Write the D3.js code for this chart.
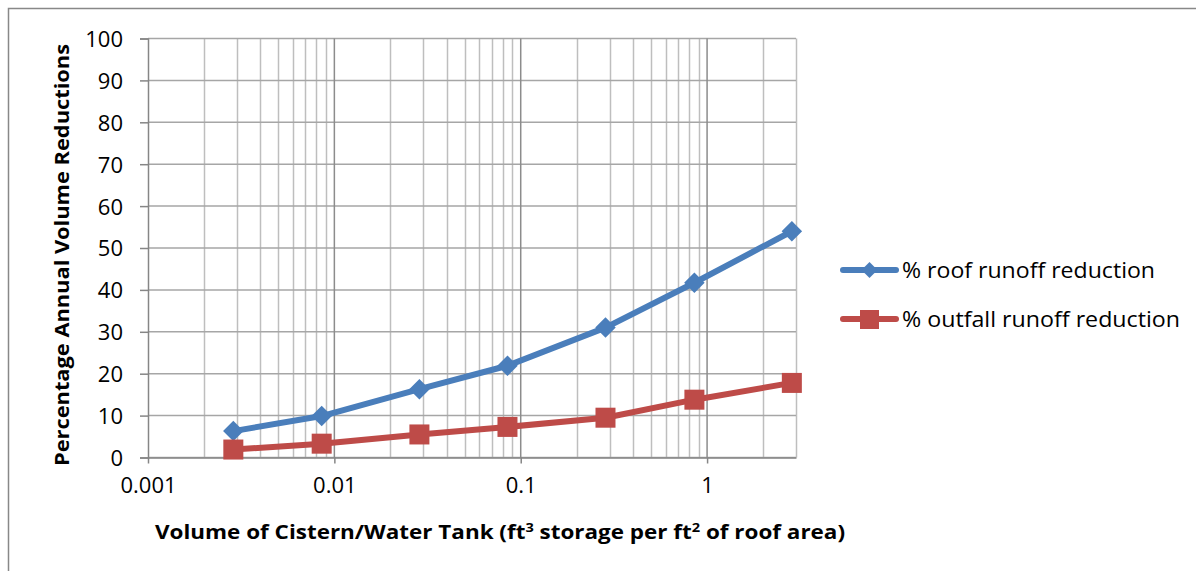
<!DOCTYPE html>
<html>
<head>
<meta charset="utf-8">
<script src="https://cdn.jsdelivr.net/npm/d3@7"></script>
<style>
  html, body { margin: 0; padding: 0; background: #fff; }
  svg { display: block; }
  text { font-family: "Open Sans", "Liberation Sans", sans-serif; fill: #000; }
</style>
</head>
<body>
<svg id="chart" width="1196" height="571"></svg>
<script>
// ---- data ----
const xValues = [0.00287, 0.00855, 0.0286, 0.0849, 0.285, 0.855, 2.85];
const roofReduction = [6.3, 9.9, 16.3, 21.9, 31.0, 41.7, 54.0];
const outfallReduction = [1.9, 3.3, 5.5, 7.3, 9.5, 13.8, 17.8];
const seriesNames = ["% roof runoff reduction", "% outfall runoff reduction"];
const yTicks = [0, 10, 20, 30, 40, 50, 60, 70, 80, 90, 100];
const xTicks = [0.001, 0.01, 0.1, 1];
const xTickLabels = ["0.001", "0.01", "0.1", "1"];

const svg = d3.select("#chart");

// outer chart border
svg.append("rect")
  .attr("x", 8.5).attr("y", 8.5)
  .attr("width", 1300).attr("height", 700)
  .attr("fill", "none").attr("stroke", "#888").attr("stroke-width", 1.5);

const x = d3.scaleLog().domain([0.001, 3]).range([148, 796]);
const y = d3.scaleLinear().domain([0, 100]).range([457.5, 38.5]);

const grid = svg.append("g");

// minor vertical gridlines
const minor = [];
for (let e = -3; e <= 0; e++) {
  for (let m = 2; m <= 9; m++) {
    const v = m * Math.pow(10, e);
    if (v <= 3.0001) minor.push(v);
  }
}
grid.selectAll("line.minor").data(minor).enter().append("line")
  .attr("x1", d => Math.round(x(d)) + 0.5).attr("x2", d => Math.round(x(d)) + 0.5)
  .attr("y1", y(100)).attr("y2", y(0))
  .attr("stroke", "#BEBEBE").attr("stroke-width", 1.5);

// horizontal gridlines
grid.selectAll("line.h").data(yTicks).enter().append("line")
  .attr("x1", x(0.001)).attr("x2", x(3))
  .attr("y1", d => y(d)).attr("y2", d => y(d))
  .attr("stroke", "#A6A6A6").attr("stroke-width", 1.5);

// major vertical gridlines
grid.selectAll("line.major").data(xTicks.slice(1)).enter().append("line")
  .attr("x1", d => x(d)).attr("x2", d => x(d))
  .attr("y1", y(100)).attr("y2", y(0))
  .attr("stroke", "#8C8C8C").attr("stroke-width", 1.5);

// y axis
const yAxis = d3.axisLeft(y).tickValues(yTicks).tickSize(8).tickPadding(6);
const gy = svg.append("g").attr("transform", `translate(${x(0.001)},0)`).call(yAxis);
gy.attr("font-size", null).attr("font-family", null);
gy.select(".domain").attr("stroke", "#868686").attr("stroke-width", 1.5);
gy.selectAll(".tick line").attr("stroke", "#868686").attr("stroke-width", 1.5);
gy.selectAll(".tick text").style("font-size", "22px").attr("x", -25).attr("dy", "0.36em");

// x axis
const xAxis = d3.axisBottom(x).tickValues(xTicks).tickFormat((d, i) => xTickLabels[i]).tickSize(6).tickSizeOuter(0).tickPadding(14);
const gx = svg.append("g").attr("transform", `translate(0,${y(0)})`).call(xAxis);
gx.attr("font-size", null).attr("font-family", null);
gx.select(".domain").attr("stroke", "#868686").attr("stroke-width", 1.5);
gx.selectAll(".tick line").attr("stroke", "#868686").attr("stroke-width", 1.5);
gx.selectAll(".tick text").style("font-size", "22px");

// axis titles
svg.append("text")
  .attr("transform", `translate(69,255) rotate(-90)`)
  .attr("text-anchor", "middle").attr("font-weight", "bold").style("font-size", "20px")
  .attr("textLength", 422).attr("lengthAdjust", "spacingAndGlyphs")
  .text("Percentage Annual Volume Reductions");

const xt = svg.append("text")
  .attr("x", 500).attr("y", 539)
  .attr("text-anchor", "middle").attr("font-weight", "bold").style("font-size", "20px")
  .attr("textLength", 690).attr("lengthAdjust", "spacingAndGlyphs");
xt.append("tspan").text("Volume of Cistern/Water Tank (ft");
xt.append("tspan").style("font-size", "13px").attr("dy", -7).text("3");
xt.append("tspan").attr("dy", 7).text(" storage per ft");
xt.append("tspan").style("font-size", "13px").attr("dy", -7).text("2");
xt.append("tspan").attr("dy", 7).text(" of roof area)");

// series
const colors = ["#4A7EBB", "#BE4B48"];
const series = [roofReduction, outfallReduction];
const line = d3.line().x(d => x(d[0])).y(d => y(d[1]));
const diamond = d3.symbol().type(d3.symbolSquare).size(210);
series.forEach((vals, si) => {
  const pts = xValues.map((xv, i) => [xv, vals[i]]);
  svg.append("path").datum(pts)
    .attr("d", line).attr("fill", "none")
    .attr("stroke", colors[si]).attr("stroke-width", 6)
    .attr("stroke-linejoin", "round").attr("stroke-linecap", "round");
  const g = svg.append("g");
  if (si === 0) {
    g.selectAll("path").data(pts).enter().append("path")
      .attr("d", diamond)
      .attr("transform", d => `translate(${x(d[0])},${y(d[1])}) rotate(45)`)
      .attr("fill", colors[si]);
  } else {
    g.selectAll("rect").data(pts).enter().append("rect")
      .attr("x", d => x(d[0]) - 10).attr("y", d => y(d[1]) - 10)
      .attr("width", 20).attr("height", 20)
      .attr("fill", colors[si]);
  }
});

// legend
const legendY = [270, 319];
const legendLen = [253, 278];
seriesNames.forEach((name, i) => {
  const g = svg.append("g");
  g.append("line").attr("x1", 843).attr("x2", 896).attr("y1", legendY[i]).attr("y2", legendY[i])
    .attr("stroke", colors[i]).attr("stroke-width", 6).attr("stroke-linecap", "round");
  if (i === 0) {
    g.append("path").attr("d", d3.symbol().type(d3.symbolSquare).size(130)).attr("transform", `translate(869.5,${legendY[i]}) rotate(45)`).attr("fill", colors[i]);
  } else {
    g.append("rect").attr("x", 860).attr("y", legendY[i] - 9).attr("width", 19).attr("height", 19).attr("fill", colors[i]);
  }
  g.append("text").attr("x", 902).attr("y", legendY[i] + 8).style("font-size", "22px")
    .attr("textLength", legendLen[i]).attr("lengthAdjust", "spacingAndGlyphs")
    .text(name);
});
</script>
</body>
</html>
